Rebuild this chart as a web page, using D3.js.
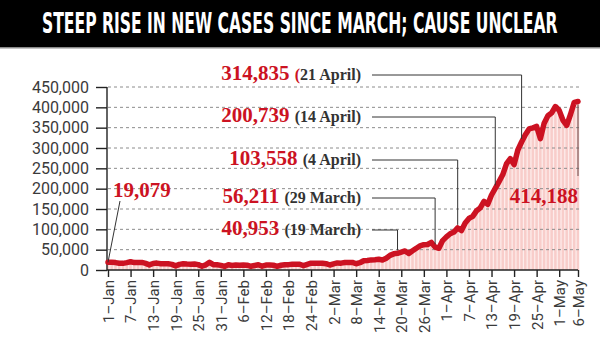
<!DOCTYPE html>
<html>
<head>
<meta charset="utf-8">
<script src="https://cdn.jsdelivr.net/npm/d3@7"></script>
<style>
  body { margin: 0; background: #fff; }
  svg { display: block; }
</style>
</head>
<body>
<svg id="chart" width="600" height="339"></svg>
<script>
// Daily new cases, 1 January to 6 May 2021
const firstDay = "2021-01-01";
const janCases = [19079, 19078, 18177, 16504, 16375, 18088, 20346, 18139, 18222, 18645, 16311, 12584, 15968, 16946, 15590, 15158, 15144, 13788, 10064, 13823, 15223, 14545, 14256, 14849, 13203, 9102, 12689, 18855, 13083, 13052, 11427];
const febCases = [8635, 12899, 11039, 12408, 11713, 12059, 11831, 9110, 11067, 12923, 9309, 12143, 12194, 11649, 9121, 11610, 12881, 13193, 13993, 14264, 14199, 10584, 13742, 16738, 16577, 16488, 16752, 15510];
const marCases = [12286, 14989, 17407, 16838, 18327, 18711, 18599, 15388, 17921, 22854, 23285, 24882, 25320, 26291, 24492, 28903, 35871, 39726, 40953, 43846, 46951, 40715, 47262, 53476, 59118, 62258, 62714, 68020, 56211, 53480, 72330];
const aprCases = [81466, 89129, 93249, 103558, 96982, 115736, 126789, 131968, 145384, 152879, 168912, 161736, 184372, 200739, 217353, 234692, 261500, 273810, 259170, 295041, 314835, 332730, 346786, 349691, 352991, 323144, 360960, 379257, 386452, 401993];
const mayCases = [392488, 368147, 355828, 382315, 412262, 414188];

const yTicks = [0, 50000, 100000, 150000, 200000, 250000, 300000, 350000, 400000, 450000];
const xTickLabels = ["1–Jan", "7–Jan", "13–Jan", "19–Jan", "25–Jan", "31–Jan", "6–Feb", "12–Feb", "18–Feb", "24–Feb",
  "2–Mar", "8–Mar", "14–Mar", "20–Mar", "26–Mar", "1–Apr", "7–Apr", "13–Apr", "19–Apr", "25–Apr", "1–May", "6–May"];

// Highlighted days
const calloutDates = ["2021-01-01", "2021-03-19", "2021-03-29", "2021-04-04", "2021-04-14", "2021-04-21", "2021-05-06"];
const calloutNotes = ["", "19 March", "29 March", "4 April", "14 April", "21 April", ""];

const titleText = "STEEP RISE IN NEW CASES SINCE MARCH; CAUSE UNCLEAR";

// ---------------------------------------------------------------------------
const RED = "#cc1222";
const parseDay = d3.utcParse("%Y-%m-%d");
const parseTick = d3.utcParse("%d-%b-%Y");
const start = parseDay(firstDay);
const cases = [].concat(janCases, febCases, marCases, aprCases, mayCases);
const series = cases.map((v, i) => ({ date: d3.utcDay.offset(start, i), value: v }));
const byTime = new Map(series.map(d => [+d.date, d.value]));
const tickDates = xTickLabels.map(l => parseTick(l.replace("–", "-") + "-2021"));

const svg = d3.select("#chart");

// Title band
svg.append("rect").attr("x", 0).attr("y", 0).attr("width", 600).attr("height", 47).attr("fill", "#000");
svg.append("rect").attr("x", 0).attr("y", 47).attr("width", 600).attr("height", 1.5).attr("fill", "#8a8a8a");
const title = svg.append("text")
  .attr("x", 0).attr("y", 0)
  .attr("font-family", "'Liberation Sans Narrow', 'DejaVu Sans Condensed', sans-serif")
  .attr("font-weight", 700).attr("font-size", 28).attr("fill", "#fff")
  .text(titleText);
// squeeze the headline into the band width
const natural = title.node().getComputedTextLength();
const sx = 516 / natural;
title.attr("transform", `translate(42,33) scale(${sx},1)`);

// Scales
const x = d3.scaleUtc()
  .domain([series[0].date, series[series.length - 1].date])
  .range([108, 578]);
const y = d3.scaleLinear().domain([0, 450000]).range([270, 87]);

// Area under the curve: pale base with one pink bar per day
const area = d3.area().x(d => x(d.date)).y0(y(0)).y1(d => y(d.value));
svg.append("path").datum(series).attr("d", area).attr("fill", "#fdeceb");
svg.append("g").selectAll("rect").data(series).join("rect")
  .attr("x", d => x(d.date) - 1.3)
  .attr("width", 2.5)
  .attr("y", d => y(d.value))
  .attr("height", d => y(0) - y(d.value))
  .attr("fill", "#f8cdca");

// Dashed grid
svg.append("g").selectAll("line").data(yTicks.filter(t => t > 0)).join("line")
  .attr("x1", 108).attr("x2", 580)
  .attr("y1", d => y(d)).attr("y2", d => y(d))
  .attr("stroke", "#8c8c8c").attr("stroke-width", 1).attr("stroke-dasharray", "3,3");

// Axes
const yAxis = svg.append("g")
  .attr("transform", "translate(107,0)")
  .call(d3.axisLeft(y).tickValues(yTicks).tickFormat(d3.format(",")).tickSize(11).tickPadding(7));
yAxis.select(".domain").attr("d", `M0,${y(450000)}V${y(0)}`);

const xAxis = svg.append("g")
  .attr("transform", `translate(0,${y(0)})`)
  .call(d3.axisBottom(x).tickValues(tickDates).tickFormat((d, i) => xTickLabels[i]).tickSize(7).tickPadding(4));
xAxis.select(".domain").attr("d", `M107,0H${x(series[series.length - 1].date)}`);
xAxis.selectAll("text")
  .attr("text-anchor", "end")
  .attr("transform", "rotate(-90)")
  .attr("x", -10).attr("y", 0).attr("dy", "0.36em");

[yAxis, xAxis].forEach(g => {
  g.selectAll(".domain, .tick line").attr("stroke", "#222").attr("stroke-width", 1.4);
  g.selectAll("text")
    .attr("font-family", "Roboto, sans-serif")
    .attr("font-weight", 400)
    .attr("fill", "#3a3a3a");
});
yAxis.selectAll("text").attr("font-size", 16);
xAxis.selectAll("text").attr("font-size", 15);

// Case curve
svg.append("path").datum(series)
  .attr("d", d3.line().x(d => x(d.date)).y(d => y(d.value)))
  .attr("fill", "none").attr("stroke", RED).attr("stroke-width", 5.5)
  .attr("stroke-linejoin", "round").attr("stroke-linecap", "round");

// Callouts
const fmt = d3.format(",");
const numFont = "'Liberation Serif', 'DejaVu Serif', serif";
const leaders = svg.append("g").attr("fill", "none").attr("stroke", "#333").attr("stroke-width", 1);
const labels = svg.append("g");
const calloutBaselines = [197, 235, 203, 165, 122, 80, 203];

calloutDates.forEach((ds, i) => {
  const dt = parseDay(ds);
  const v = byTime.get(+dt);
  const px = x(dt), py = y(v);
  const base = calloutBaselines[i];
  if (i === 0) {
    leaders.append("path").attr("d", `M${px},${py}L120,${base + 4}`);
    labels.append("text").attr("x", 113).attr("y", base)
      .attr("font-family", numFont).attr("font-weight", 700).attr("font-size", 21).attr("fill", RED)
      .text(fmt(v));
  } else if (i === calloutDates.length - 1) {
    leaders.append("path").attr("d", `M${px},${py + 3}V176`).attr("stroke", "#6b4a4a");
    labels.append("text").attr("x", 578).attr("y", base).attr("text-anchor", "end")
      .attr("font-family", numFont).attr("font-weight", 700).attr("font-size", 21).attr("fill", RED)
      .text(fmt(v));
  } else {
    const ly = base - 5;
    leaders.append("path").attr("d", `M372,${ly}H${px}V${py - 3}`);
    const t = labels.append("text").attr("x", 361).attr("y", base).attr("text-anchor", "end")
      .attr("font-family", numFont).attr("font-weight", 700);
    t.append("tspan").attr("font-size", 21).attr("fill", RED).text(fmt(v) + " ");
    t.append("tspan").attr("font-size", 16).attr("fill", i === 5 ? RED : "#333").text("(");
    t.append("tspan").attr("font-size", 16).attr("fill", "#333").text(calloutNotes[i] + ")");
  }
});
</script>
</body>
</html>
